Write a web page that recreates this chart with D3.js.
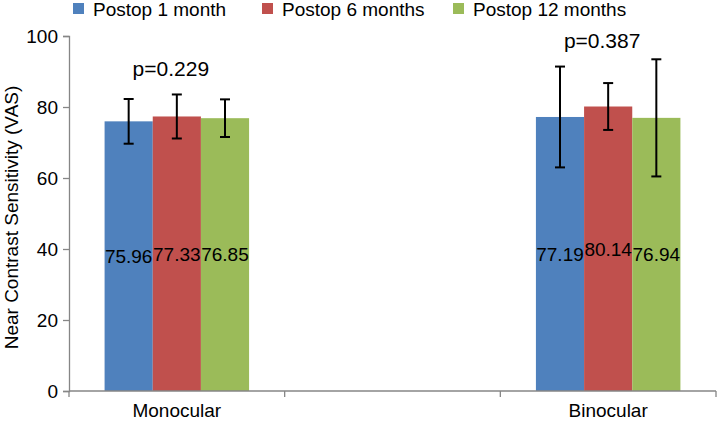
<!DOCTYPE html>
<html>
<head>
<meta charset="utf-8">
<script src="https://cdn.jsdelivr.net/npm/d3@7"></script>
<style>
  html, body { margin: 0; padding: 0; background: #fff; }
  svg { display: block; font-family: Arial, "Liberation Sans", sans-serif; }
</style>
</head>
<body>
<svg id="chart" width="718" height="422"></svg>
<script>
// ---- data ----
const categories = ["Monocular", "", "Binocular"];
const seriesNames = ["Postop 1 month", "Postop 6 months", "Postop 12 months"];
const colors = ["#4F81BD", "#C0504D", "#9BBB59"];
const monocularValues = [75.96, 77.33, 76.85];
const binocularValues = [77.19, 80.14, 76.94];
const monocularErrors = [6.3, 6.2, 5.3];
const binocularErrors = [14.2, 6.6, 16.5];
const pLabels = ["p=0.229", "p=0.387"];
const pLabelValues = [88.7, 96.6];   // height (in axis units) of the p-value annotations
const yTicks = [0, 20, 40, 60, 80, 100];
const yTitle = "Near Contrast Sensitivity (VAS)";

const groups = [
  { cat: "Monocular", values: monocularValues, errors: monocularErrors, p: pLabels[0], pY: pLabelValues[0] },
  { cat: "Binocular", values: binocularValues, errors: binocularErrors, p: pLabels[1], pY: pLabelValues[1] }
];

// ---- layout ----
const svg = d3.select("#chart");
const mLeft = 69, mRight = 716, mTop = 36, mBottom = 391;
const axisColor = "#868686";

const x = d3.scaleBand().domain(categories).range([mLeft, mRight]).paddingInner(0).paddingOuter(0);
const groupW = x.bandwidth() * 0.67;
const x1 = d3.scaleBand().domain(seriesNames).range([0, groupW]);
const y = d3.scaleLinear().domain([0, 100]).range([mBottom, mTop]);

// bars
groups.forEach(g => {
  const gx = x(g.cat) + (x.bandwidth() - groupW) / 2;
  const gSel = svg.append("g").attr("transform", `translate(${gx},0)`);
  g.values.forEach((v, i) => {
    gSel.append("rect")
      .attr("x", x1(seriesNames[i]))
      .attr("y", y(v))
      .attr("width", x1.bandwidth())
      .attr("height", y(0) - y(v))
      .attr("fill", colors[i]);
  });
  // error bars
  g.values.forEach((v, i) => {
    const cx = x1(seriesNames[i]) + x1.bandwidth() / 2;
    const e = g.errors[i];
    const eb = gSel.append("g").attr("stroke", "#000").attr("stroke-width", 2);
    eb.append("line").attr("x1", cx).attr("x2", cx).attr("y1", y(v + e)).attr("y2", y(v - e));
    eb.append("line").attr("x1", cx - 5).attr("x2", cx + 5).attr("y1", y(v + e)).attr("y2", y(v + e));
    eb.append("line").attr("x1", cx - 5).attr("x2", cx + 5).attr("y1", y(v - e)).attr("y2", y(v - e));
  });
  // data labels
  g.values.forEach((v, i) => {
    gSel.append("text")
      .attr("x", x1(seriesNames[i]) + x1.bandwidth() / 2)
      .attr("y", y(v / 2))
      .attr("dy", "0.36em")
      .attr("text-anchor", "middle")
      .attr("font-size", 19)
      .attr("fill", "#000")
      .text(v.toFixed(2));
  });
  // p-value annotation
  svg.append("text")
    .attr("x", x(g.cat) + x.bandwidth() / 2 - 6)
    .attr("y", y(g.pY))
    .attr("text-anchor", "middle")
    .attr("font-size", 21)
    .attr("fill", "#000")
    .text(g.p);
});

// y axis
const yAxis = svg.append("g")
  .attr("transform", `translate(${mLeft},0)`)
  .call(d3.axisLeft(y).tickValues(yTicks).tickSize(6).tickPadding(5));
yAxis.select(".domain").attr("stroke", axisColor).attr("stroke-width", 1.3);
yAxis.selectAll(".tick line").attr("stroke", axisColor).attr("stroke-width", 1.3);
yAxis.selectAll(".tick text").attr("font-size", 19).attr("fill", "#000")
  .attr("font-family", "Arial, 'Liberation Sans', sans-serif");

// x axis
const xAxisG = svg.append("g").attr("transform", `translate(0,${mBottom})`);
xAxisG.append("line").attr("x1", mLeft).attr("x2", mRight).attr("y1", 0).attr("y2", 0)
  .attr("stroke", axisColor).attr("stroke-width", 1.3);
const boundaries = categories.map(c => x(c)).concat([x(categories[categories.length - 1]) + x.bandwidth()]);
xAxisG.selectAll("line.tick").data(boundaries).enter().append("line")
  .attr("class", "tick")
  .attr("x1", d => d).attr("x2", d => d).attr("y1", 0).attr("y2", 6)
  .attr("stroke", axisColor).attr("stroke-width", 1.3);
xAxisG.selectAll("text").data(categories.filter(c => c !== "")).enter().append("text")
  .attr("x", d => x(d) + x.bandwidth() / 2)
  .attr("y", 26)
  .attr("text-anchor", "middle")
  .attr("font-size", 19)
  .attr("fill", "#000")
  .text(d => d);

// y title
svg.append("text")
  .attr("transform", `translate(18,${(mTop + mBottom) / 2 + 4}) rotate(-90)`)
  .attr("text-anchor", "middle")
  .attr("font-size", 19)
  .attr("fill", "#000")
  .text(yTitle);

// legend
const legendX = [73, 262, 453];
const legend = svg.append("g");
seriesNames.forEach((s, i) => {
  legend.append("rect").attr("x", legendX[i]).attr("y", 3).attr("width", 11).attr("height", 11).attr("fill", colors[i]);
  legend.append("text").attr("x", legendX[i] + 20).attr("y", 16)
    .attr("font-size", 19).attr("fill", "#000").text(s);
});
</script>
</body>
</html>
